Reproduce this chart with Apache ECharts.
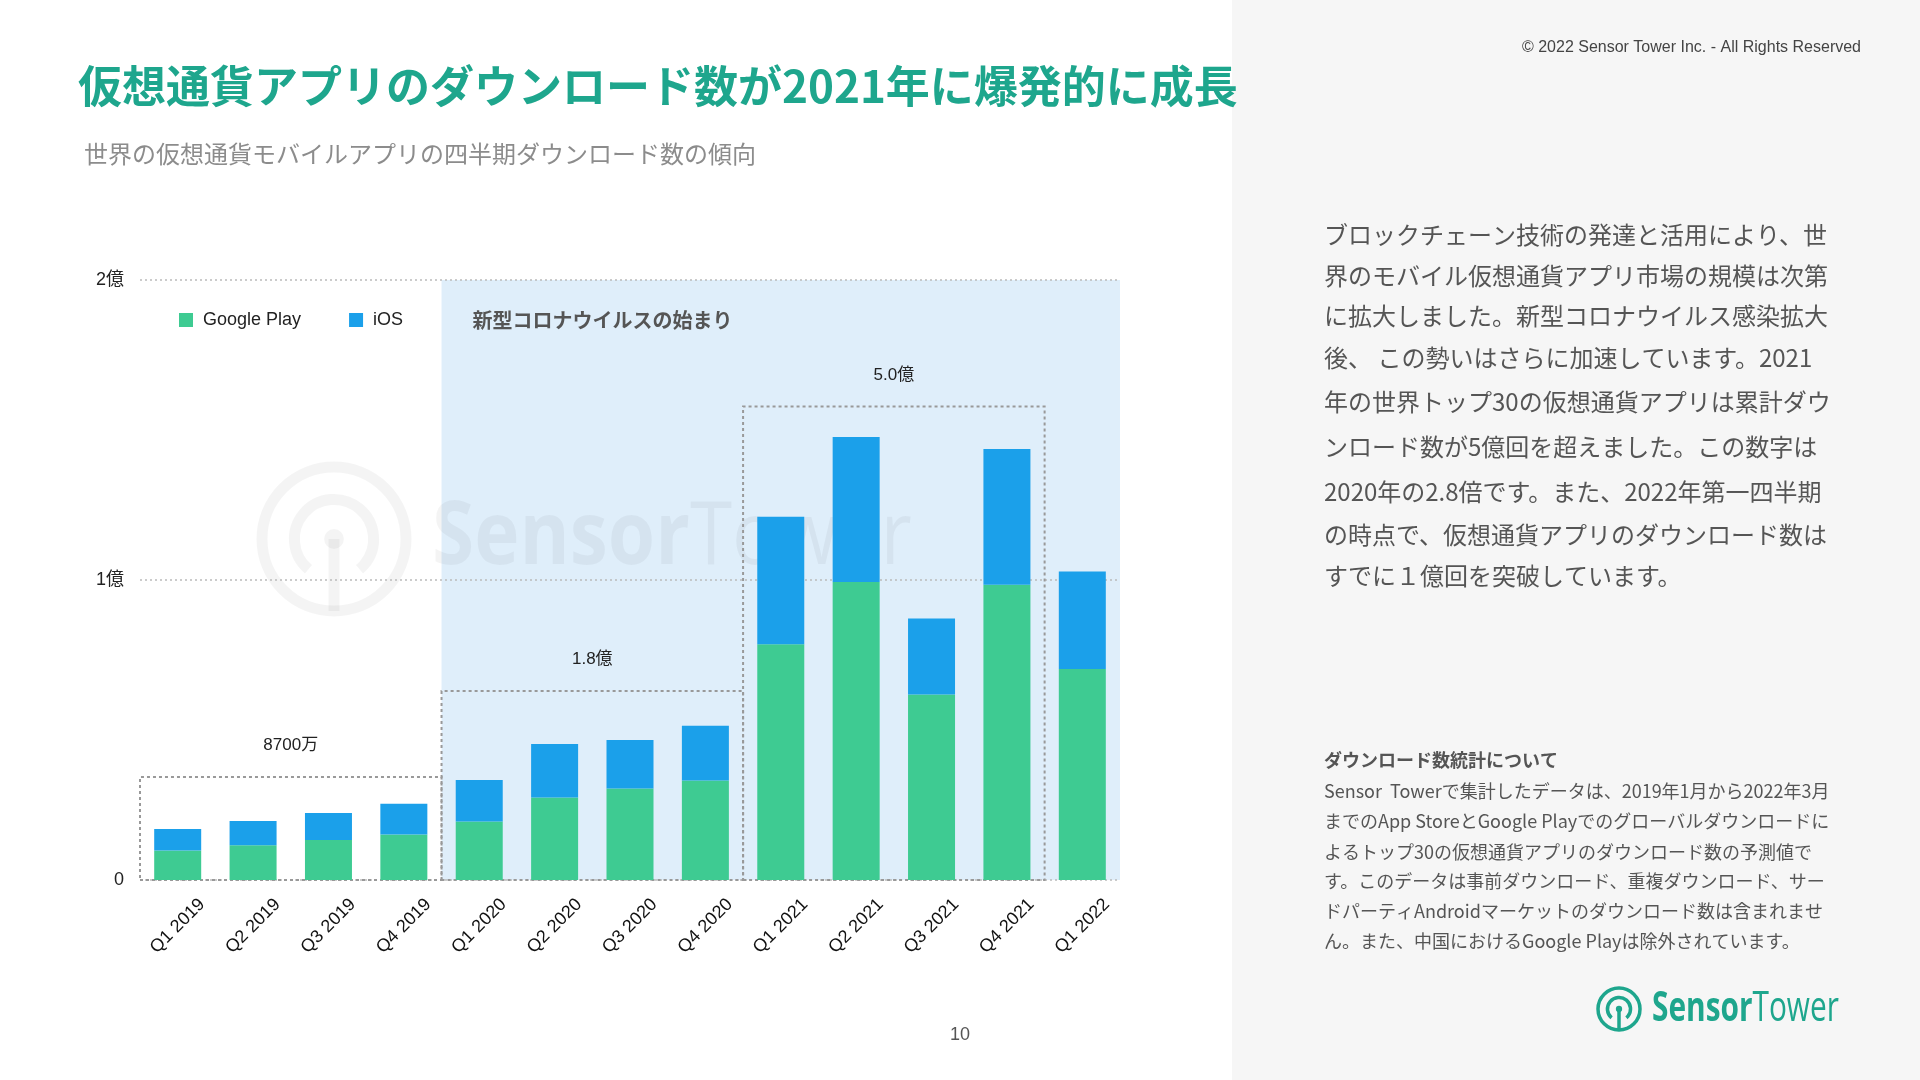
<!DOCTYPE html>
<html>
<head>
<meta charset="utf-8">
<style>
html, body { margin: 0; padding: 0; background: #fff; }
#main { width: 1920px; height: 1080px; }
</style>
<script src="https://cdn.jsdelivr.net/npm/echarts@6/dist/echarts.min.js"></script>
</head>
<body>
<div id="main"></div>
<script>
// 四半期
const quarters = ['Q1 2019', 'Q2 2019', 'Q3 2019', 'Q4 2019', 'Q1 2020', 'Q2 2020', 'Q3 2020',
    'Q4 2020', 'Q1 2021', 'Q2 2021', 'Q3 2021', 'Q4 2021', 'Q1 2022'];
// ダウンロード数（単位：万）
const googlePlay = [980, 1160, 1330, 1520, 1950, 2750, 3050, 3320, 7860, 9930, 6180, 9840, 7030];
const ios = [720, 810, 900, 1020, 1380, 1780, 1620, 1820, 4250, 4840, 2540, 4530, 3250];
// y軸ラベル
const yLabels = ['0', '1億', '2億'];
// 年ごとの合計ラベル
const groupLabels = ['8700万', '1.8億', '5.0億'];
const groupRanges = [['Q1 2019', 'Q4 2019'], ['Q1 2020', 'Q4 2020'], ['Q1 2021', 'Q4 2021']];
const groupTops = [3430, 6300, 15780];
const covidLabel = '新型コロナウイルスの始まり';

const bodyLines = [
    'ブロックチェーン技術の発達と活用により、世',
    '界のモバイル仮想通貨アプリ市場の規模は次第',
    'に拡大しました。新型コロナウイルス感染拡大',
    '後、 この勢いはさらに加速しています。2021',
    '年の世界トップ30の仮想通貨アプリは累計ダウ',
    'ンロード数が5億回を超えました。この数字は',
    '2020年の2.8倍です。また、2022年第一四半期',
    'の時点で、仮想通貨アプリのダウンロード数は',
    'すでに１億回を突破しています。'
];
const bodyY = [235, 275.5, 316, 357.5, 401.5, 447, 492, 535, 575.5];
const noteLines = [
    'Sensor  Towerで集計したデータは、2019年1月から2022年3月',
    'までのApp StoreとGoogle Playでのグローバルダウンロードに',
    'よるトップ30の仮想通貨アプリのダウンロード数の予測値で',
    'す。このデータは事前ダウンロード、重複ダウンロード、サー',
    'ドパーティAndroidマーケットのダウンロード数は含まれませ',
    'ん。また、中国におけるGoogle Playは除外されています。'
];
const noteY = [791, 821.5, 852, 881.5, 911, 941.5];

const green = '#3ecb92';
const blue = '#1ba0ea';
const teal = '#1ea68d';
const latin = '"Liberation Sans", Arial, "Noto Sans CJK JP", sans-serif';
const jp = '"Noto Sans CJK JP", sans-serif';

let myChart = echarts.init(document.getElementById('main'));

// ロゴ（ウォーターマークと右下で共用）
function logo(x, y, r, lw, textX, fontSize, sx, color, z) {
    return {
        type: 'group', silent: true,
        children: [
            { type: 'circle', z: z, shape: { cx: x, cy: y, r: r }, style: { fill: null, stroke: color, lineWidth: lw } },
            { type: 'arc', z: z, shape: { cx: x, cy: y, r: r * 0.55, startAngle: Math.PI / 2 + 0.7, endAngle: Math.PI * 2.5 - 0.7, clockwise: true },
              style: { fill: null, stroke: color, lineWidth: lw } },
            { type: 'circle', z: z, shape: { cx: x, cy: y, r: lw * 0.9 }, style: { fill: color } },
            { type: 'line', z: z, shape: { x1: x, y1: y, x2: x, y2: y + r }, style: { stroke: color, lineWidth: lw } },
            { type: 'text', z: z, x: textX, y: y, scaleX: sx,
              style: { text: '{b|Sensor}{r|Tower}', verticalAlign: 'middle', align: 'left',
                rich: {
                    b: { fontFamily: '"Open Sans", sans-serif', fontWeight: 'bold', fontSize: fontSize, fill: color },
                    r: { fontFamily: '"Open Sans", sans-serif', fontWeight: 'normal', fontSize: fontSize, fill: color }
                } } }
        ]
    };
}

let graphics = [
    { type: 'rect', z: 0, shape: { x: 1232, y: 0, width: 688, height: 1080 }, style: { fill: '#f6f6f6' } },
    { type: 'text', z: 5, x: 1861, y: 48, style: { text: '© 2022 Sensor Tower Inc. - All Rights Reserved', font: '16px ' + latin, fill: '#444', align: 'right', verticalAlign: 'middle' } },
    { type: 'text', z: 5, x: 1324, y: 760.5, style: { text: 'ダウンロード数統計について', font: 'bold 18px ' + jp, fill: '#555', align: 'left', verticalAlign: 'middle' } },
    { type: 'text', z: 5, x: 960, y: 1035, style: { text: '10', font: '18px ' + latin, fill: '#555', align: 'center', verticalAlign: 'middle' } },
    logo(334, 539, 72, 11, 432, 88, 0.87, 'rgba(0,0,0,0.045)', 1),
    logo(1619, 1009, 21, 3.5, 1652, 42, 0.71, teal, 5)
];
bodyLines.forEach(function (t, i) {
    graphics.push({ type: 'text', z: 5, x: 1324, y: bodyY[i], style: { text: t, font: '24px ' + jp, fill: '#555', align: 'left', verticalAlign: 'middle' } });
});
noteLines.forEach(function (t, i) {
    graphics.push({ type: 'text', z: 5, x: 1324, y: noteY[i], style: { text: t, font: '18px ' + jp, fill: '#555', align: 'left', verticalAlign: 'middle' } });
});

let option = {
    animation: false,
    backgroundColor: '#fff',
    title: [{
        text: '仮想通貨アプリのダウンロード数が2021年に爆発的に成長',
        left: 78, top: 64, padding: 0,
        textStyle: { fontFamily: jp, fontSize: 44, fontWeight: 'bold', color: teal, lineHeight: 44 }
    }, {
        text: '世界の仮想通貨モバイルアプリの四半期ダウンロード数の傾向',
        left: 84, top: 142, padding: 0,
        textStyle: { fontFamily: jp, fontSize: 24, fontWeight: 'normal', color: '#8c8c8c', lineHeight: 24 }
    }],
    legend: {
        data: ['Google Play', 'iOS'],
        left: 174, top: 306,
        icon: 'rect', itemWidth: 14, itemHeight: 14, itemGap: 48,
        textStyle: { fontFamily: latin, fontSize: 18, color: '#222', padding: [0, 0, 0, 5] }
    },
    grid: { left: 140, top: 280, width: 980, height: 600, containLabel: false },
    xAxis: {
        type: 'category',
        data: quarters,
        axisLine: { show: false },
        axisTick: { show: false },
        axisLabel: {
            interval: 0, rotate: 45, margin: 46, align: 'center', verticalAlign: 'middle',
            fontFamily: latin, fontSize: 18, color: '#111'
        }
    },
    yAxis: {
        type: 'value', min: 0, max: 20000, interval: 10000, z: 1,
        axisLine: { show: false },
        axisTick: { show: false },
        axisLabel: {
            margin: 16, fontFamily: latin, fontSize: 18, color: '#222',
            formatter: function (v) { return yLabels[Math.round(v / 10000)]; }
        },
        splitLine: { lineStyle: { color: '#bbb', width: 1.5, type: [2, 3] } }
    },
    graphic: graphics,
    series: [{
        name: 'Google Play', type: 'bar', stack: 'total', barWidth: 47,
        data: googlePlay,
        itemStyle: { color: green },
        markArea: {
            silent: true, z: 0,
            itemStyle: { color: '#dfeefa' },
            label: {
                show: true, position: [31, 40], formatter: '{b}', align: 'left', verticalAlign: 'middle',
                fontFamily: jp, fontSize: 20, fontWeight: 'bold', color: '#555'
            },
            data: [[{ name: covidLabel, xAxis: quarters[4], yAxis: 20000 }, { xAxis: quarters[12], yAxis: 0 }]]
        }
    }, {
        name: 'iOS', type: 'bar', stack: 'total', barWidth: 47,
        data: ios,
        itemStyle: { color: blue },
        markArea: {
            silent: true, z: 1,
            itemStyle: { color: 'rgba(0,0,0,0)', borderColor: '#999', borderWidth: 2, borderType: [3, 3] },
            label: {
                show: true, position: 'top', distance: 22, formatter: '{b}',
                fontFamily: latin, fontSize: 17, color: '#222'
            },
            data: groupRanges.map(function (r, i) {
                return [{ name: groupLabels[i], xAxis: r[0], yAxis: groupTops[i] }, { xAxis: r[1], yAxis: 0 }];
            })
        }
    }]
};
myChart.setOption(option);
</script>
</body>
</html>
